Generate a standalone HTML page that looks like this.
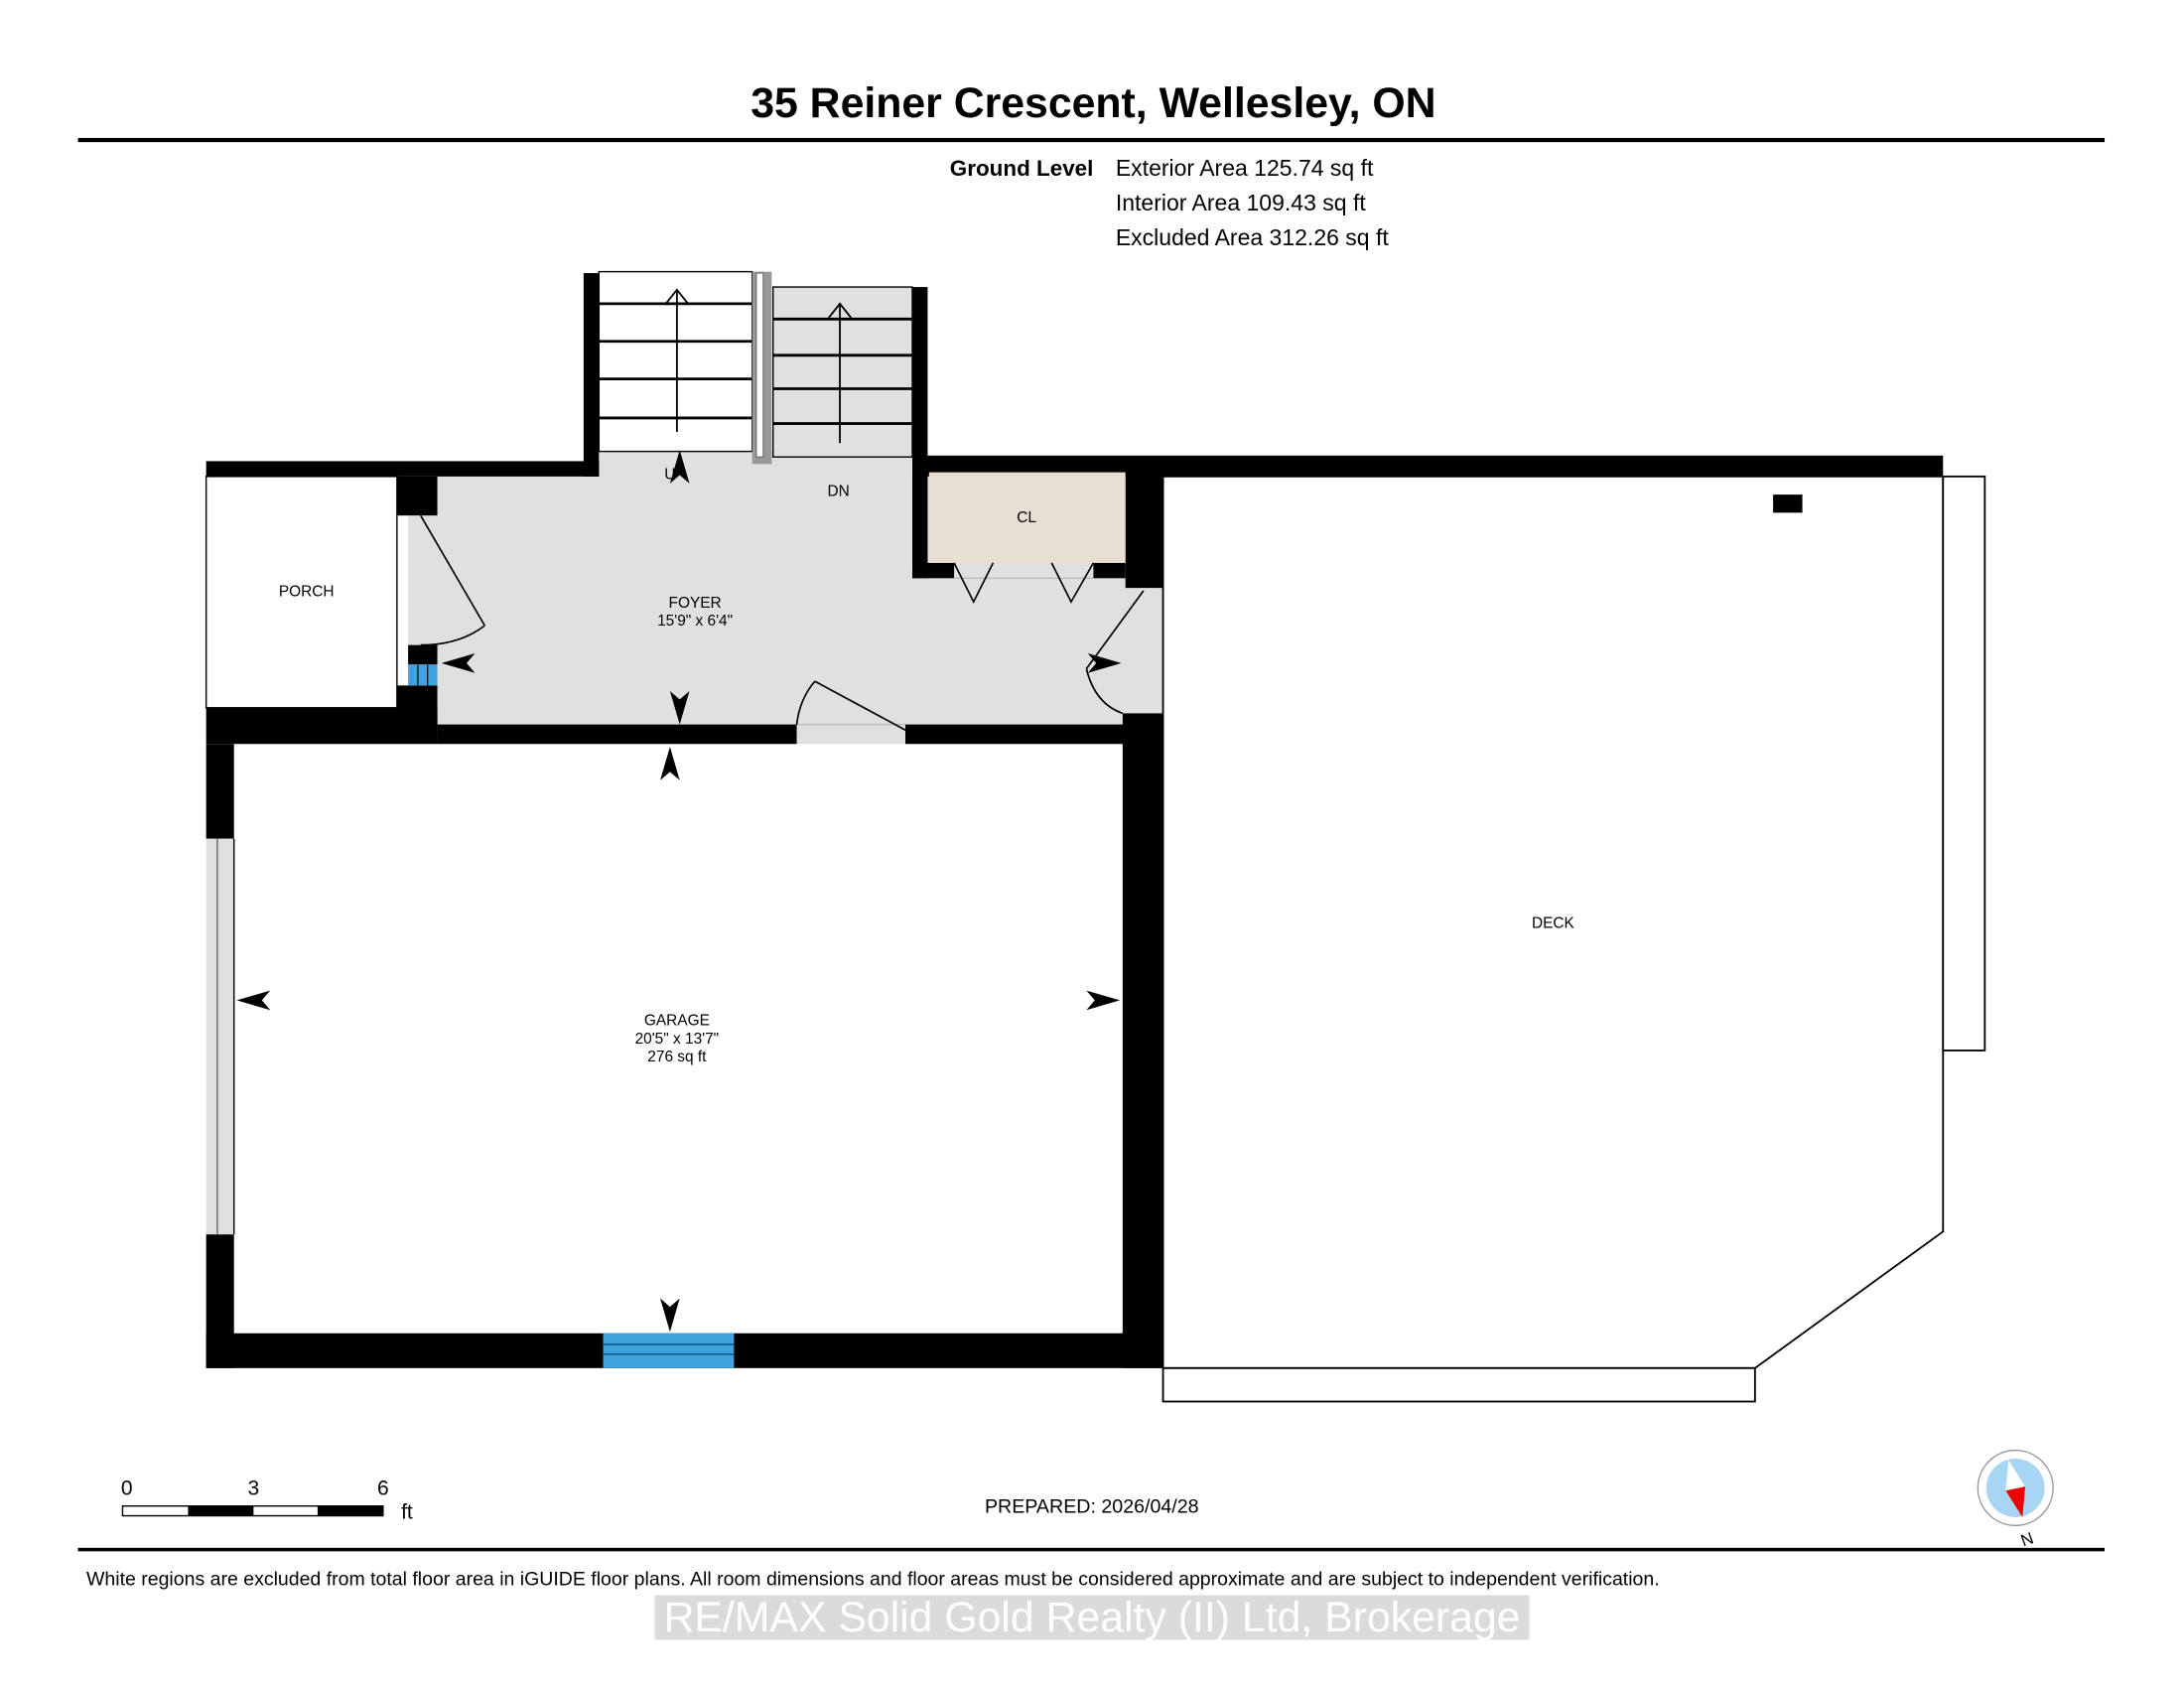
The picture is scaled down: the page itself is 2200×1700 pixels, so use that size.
<!DOCTYPE html>
<html><head><meta charset="utf-8"><style>
html,body{margin:0;padding:0;background:#fff;}
svg{display:block;}
text{font-family:"Liberation Sans",Arial,sans-serif;}
</style></head><body>
<svg width="2200" height="1700" viewBox="0 0 1568 1211.6" xmlns="http://www.w3.org/2000/svg">
<rect width="1568" height="1212" fill="#fff"/>
<!-- header -->
<text x="785" y="84" font-size="30.5" font-weight="bold" text-anchor="middle">35 Reiner Crescent, Wellesley, ON</text>
<rect x="56" y="99" width="1455" height="3" fill="#000"/>
<text x="785" y="126" font-size="16" font-weight="bold" text-anchor="end">Ground Level</text>
<text x="801" y="126" font-size="16.4">Exterior Area 125.74 sq ft</text>
<text x="801" y="151" font-size="16.4">Interior Area 109.43 sq ft</text>
<text x="801" y="176" font-size="16.4">Excluded Area 312.26 sq ft</text>

<!-- foyer fill -->
<rect x="314" y="342" width="494" height="180" fill="#e0e0e0"/>
<rect x="430" y="324" width="225" height="20" fill="#e0e0e0"/>
<!-- door openings -->
<rect x="293" y="370" width="21" height="93" fill="#e0e0e0"/>
<rect x="806" y="422" width="29" height="90" fill="#e0e0e0"/>
<rect x="572" y="518" width="78" height="16" fill="#e0e0e0"/>
<line x1="572" y1="520" x2="650" y2="520" stroke="#bbb" stroke-width="1"/>

<!-- stairs 1 -->
<rect x="430" y="195" width="110" height="129" fill="#fff" stroke="#000" stroke-width="1"/>
<g stroke="#000" stroke-width="2">
<line x1="430" y1="218" x2="540" y2="218"/><line x1="430" y1="245" x2="540" y2="245"/>
<line x1="430" y1="272" x2="540" y2="272"/><line x1="430" y1="300" x2="540" y2="300"/>
</g>
<g stroke="#000" stroke-width="1.3" fill="none">
<line x1="486" y1="310" x2="486" y2="208"/><polyline points="478,218 486,208 494,218"/>
</g>
<!-- stairs 2 -->
<rect x="555" y="206" width="100" height="122" fill="#e0e0e0" stroke="#000" stroke-width="1"/>
<g stroke="#000" stroke-width="2">
<line x1="555" y1="229" x2="655" y2="229"/><line x1="555" y1="255" x2="655" y2="255"/>
<line x1="555" y1="279" x2="655" y2="279"/><line x1="555" y1="304" x2="655" y2="304"/>
</g>
<g stroke="#000" stroke-width="1.3" fill="none">
<line x1="603" y1="318" x2="603" y2="218"/><polyline points="595,228 603,218 611,228"/>
</g>
<!-- handrail -->
<rect x="540" y="195" width="14" height="138" fill="#999"/>
<rect x="543" y="196" width="5" height="132" fill="#fff" stroke="#666" stroke-width="0.8"/>

<!-- porch -->
<rect x="148" y="342" width="137" height="166" fill="#fff" stroke="#000" stroke-width="1"/>

<!-- walls -->
<g fill="#000">
<rect x="148" y="331" width="282" height="11"/>
<rect x="419" y="196" width="11" height="146"/>
<rect x="655" y="206" width="11" height="209"/>
<rect x="655" y="327" width="740" height="15"/>
<rect x="285" y="342" width="29" height="28"/>
<rect x="293" y="463" width="21" height="14"/>
<rect x="285" y="492" width="29" height="28"/>
<rect x="148" y="508" width="166" height="26"/>
<rect x="314" y="520" width="258" height="14"/>
<rect x="650" y="520" width="158" height="14"/>
<rect x="655" y="404" width="30" height="11"/>
<rect x="785" y="404" width="23" height="11"/>
<rect x="808" y="339" width="27" height="83"/>
<rect x="806" y="512" width="29" height="470"/>
<rect x="148" y="534" width="20" height="68"/>
<rect x="148" y="886" width="20" height="96"/>
<rect x="148" y="957" width="687" height="25"/>
</g>
<!-- porch window -->
<rect x="293" y="477" width="21" height="15" fill="#3fa4de"/>
<line x1="300" y1="477" x2="300" y2="492" stroke="#000" stroke-width="0.8"/>
<line x1="307" y1="477" x2="307" y2="492" stroke="#000" stroke-width="0.8"/>
<!-- garage left window -->
<rect x="148" y="602" width="20" height="284" fill="#e0e0e0"/>
<line x1="156" y1="602" x2="156" y2="886" stroke="#666" stroke-width="1"/>
<line x1="168" y1="602" x2="168" y2="886" stroke="#000" stroke-width="1"/>
<!-- garage bottom window -->
<rect x="433" y="957" width="94" height="25" fill="#3fa4de"/>
<line x1="433" y1="965" x2="527" y2="965" stroke="#0a4a7a" stroke-width="1"/>
<line x1="433" y1="972" x2="527" y2="972" stroke="#0a4a7a" stroke-width="1"/>

<!-- closet -->
<rect x="667" y="339" width="141" height="65" fill="#e8dfd2"/>
<line x1="685" y1="415" x2="785" y2="415" stroke="#bbb" stroke-width="1"/>
<g stroke="#000" stroke-width="1.2" fill="none">
<polyline points="685,404 699,432 713,404"/>
<polyline points="755,404 769,432 785,404"/>
<!-- doors -->
<line x1="302" y1="370" x2="348" y2="449"/>
<path d="M348,449 Q330,463 302,463"/>
<line x1="821" y1="424" x2="780" y2="480"/>
<path d="M780,480 Q786,505 806,512"/>
<line x1="585" y1="489" x2="650" y2="524"/>
<path d="M585,489 Q574,502 572,520"/>
</g>

<!-- deck -->
<polygon points="835,342 1395,342 1395,884 1260,982 835,982" fill="#fff" stroke="#000" stroke-width="1.3"/>
<rect x="835" y="982" width="425" height="24" fill="#fff" stroke="#000" stroke-width="1.3"/>
<rect x="1395" y="342" width="30" height="412" fill="#fff" stroke="#000" stroke-width="1.3"/>
<rect x="1273" y="355" width="21" height="13" fill="#000"/>

<!-- arrows -->
<g fill="#000">
<path d="M488,323 L481,347 L488,341 L495,347 Z"/>
<path d="M488,520 L481,496 L488,502 L495,496 Z"/>
<path d="M481,536 L474,560 L481,554 L488,560 Z"/>
<path d="M481,956 L474,932 L481,938 L488,932 Z"/>
<path d="M317,476 L341,469 L335,476 L341,483 Z"/>
<path d="M805,476 L781,469 L787,476 L781,483 Z"/>
<path d="M170,718 L194,711 L188,718 L194,725 Z"/>
<path d="M804,718 L780,711 L786,718 L780,725 Z"/>
</g>

<!-- labels -->
<g font-size="11" text-anchor="middle">
<text x="220" y="428">PORCH</text>
<text x="499" y="436">FOYER</text>
<text x="499" y="449">15'9" x 6'4"</text>
<text x="481" y="344">U</text>
<text x="602" y="356">DN</text>
<text x="737" y="375">CL</text>
<text x="1115" y="666">DECK</text>
<text x="486" y="736">GARAGE</text>
<text x="486" y="749">20'5" x 13'7"</text>
<text x="486" y="762">276 sq ft</text>
</g>

<!-- scale -->
<g font-size="15" text-anchor="middle">
<text x="91" y="1073">0</text><text x="182" y="1073">3</text><text x="275" y="1073">6</text>
</g>
<text x="288" y="1090" font-size="15">ft</text>
<rect x="88" y="1081" width="187" height="7" fill="#fff" stroke="#000" stroke-width="1"/>
<rect x="135" y="1081" width="47" height="7" fill="#000"/>
<rect x="228" y="1081" width="47" height="7" fill="#000"/>
<text x="707" y="1086" font-size="14">PREPARED: 2026/04/28</text>

<!-- compass -->
<circle cx="1447" cy="1068" r="27" fill="#fff" stroke="#999" stroke-width="1"/>
<circle cx="1447" cy="1068" r="21" fill="#a9d5f5"/>
<polygon points="1442,1048 1440,1070 1454,1067" fill="#fff"/>
<polygon points="1440,1070 1454,1067 1452,1089" fill="#e00"/>
<text x="1455" y="1109" font-size="12" text-anchor="middle" transform="rotate(-20 1455 1104)">N</text>

<!-- footer -->
<rect x="56" y="1111" width="1455" height="2.5" fill="#000"/>
<text x="62" y="1138" font-size="13.9">White regions are excluded from total floor area in iGUIDE floor plans. All room dimensions and floor areas must be considered approximate and are subject to independent verification.</text>
<rect x="470" y="1145" width="628" height="32" fill="#bdbdbd" opacity="0.55"/>
<text x="784" y="1171" font-size="30.5" fill="#fff" text-anchor="middle" font-family="DejaVu Sans, sans-serif">RE/MAX Solid Gold Realty (II) Ltd, Brokerage</text>
</svg>
</body></html>
